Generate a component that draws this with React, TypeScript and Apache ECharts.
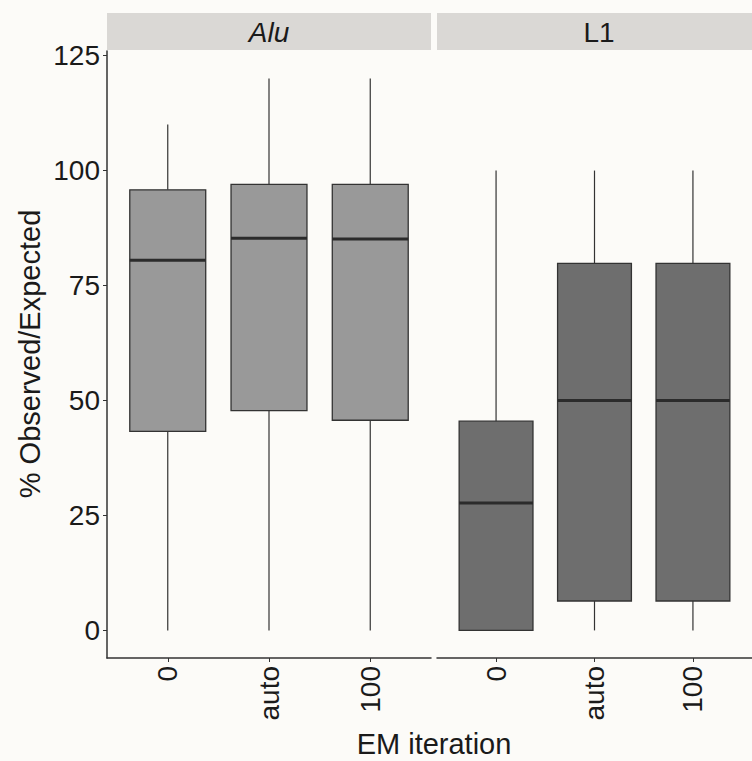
import React, { useEffect, useRef } from "react";
import * as echarts from "echarts";

const categories = ["0", "auto", "100"];
const facets = ["Alu", "L1"];
// [min, Q1, median, Q3, max]
const aluStats = [
  [0, 43.3, 80.5, 95.8, 110],
  [0, 47.8, 85.3, 97.0, 120],
  [0, 45.7, 85.1, 97.0, 120],
];
const l1Stats = [
  [0, 0, 27.7, 45.5, 100],
  [0, 6.4, 50, 79.8, 100],
  [0, 6.4, 50, 79.8, 100],
];
const yTicks = [0, 25, 50, 75, 100, 125];
const yTitle = "% Observed/Expected";
const xTitle = "EM iteration";

const FONT = "'Liberation Sans', Arial, sans-serif";
const BG = "#fcfbf8";
const INK = "#333333";

function renderBox(params: any, api: any) {
  const x = api.value(0);
  const mn = api.coord([x, api.value(1)]);
  const q1 = api.coord([x, api.value(2)]);
  const md = api.coord([x, api.value(3)]);
  const q3 = api.coord([x, api.value(4)]);
  const mx = api.coord([x, api.value(5)]);
  const w = api.size([0.75, 0])[0];
  const cx = q1[0];
  const fill = api.visual("color");
  return {
    type: "group",
    children: [
      { type: "line", shape: { x1: cx, y1: q3[1], x2: cx, y2: mx[1] }, style: { stroke: INK, lineWidth: 1.2 } },
      { type: "line", shape: { x1: cx, y1: q1[1], x2: cx, y2: mn[1] }, style: { stroke: INK, lineWidth: 1.2 } },
      { type: "rect", shape: { x: cx - w / 2, y: q3[1], width: w, height: q1[1] - q3[1] }, style: { fill, stroke: INK, lineWidth: 1.3 } },
      { type: "line", shape: { x1: cx - w / 2, y1: md[1], x2: cx + w / 2, y2: md[1] }, style: { stroke: "#2b2b2b", lineWidth: 3 } },
    ],
  };
}

export default function App() {
  const ref = useRef<HTMLDivElement>(null);
  useEffect(() => {
    document.body.style.margin = "0";
    const chart = echarts.init(ref.current!, null, { renderer: "svg" });
    const gridTop = 51;
    const gridH = 607;
    const panelW = 324;
    const lefts = [107, 437];
    const xAxisCommon = (gi: number) => ({
      type: "value",
      gridIndex: gi,
      min: 0.4,
      max: 3.6,
      axisLine: { show: true, onZero: false, lineStyle: { color: INK, width: 1.5 } },
      axisTick: { show: true, customValues: [1, 2, 3], length: 4, lineStyle: { color: INK, width: 1 } },
      axisLabel: {
        show: true,
        customValues: [1, 2, 3],
        rotate: 90,
        margin: 8,
        fontSize: 28,
        fontFamily: FONT,
        color: "#1a1a1a",
        formatter: (v: number) => categories[Math.round(v) - 1] ?? "",
      },
      splitLine: { show: false },
    });
    const yAxisCommon = (gi: number, show: boolean) => ({
      type: "value",
      gridIndex: gi,
      min: -6,
      max: 126,
      axisLine: { show, onZero: false, lineStyle: { color: INK, width: 1.5 } },
      axisTick: { show, customValues: yTicks, length: 4, lineStyle: { color: INK, width: 1 } },
      axisLabel: {
        show,
        customValues: yTicks,
        margin: 7,
        fontSize: 28,
        fontFamily: FONT,
        color: "#1a1a1a",
      },
      splitLine: { show: false },
    });
    const toData = (stats: number[][]) => stats.map((s, i) => [i + 1, ...s]);
    chart.setOption({
      animation: false,
      backgroundColor: BG,
      grid: lefts.map((l) => ({ left: l, top: gridTop, width: panelW, height: gridH })),
      xAxis: [xAxisCommon(0), xAxisCommon(1)],
      yAxis: [yAxisCommon(0, true), yAxisCommon(1, false)],
      series: [
        {
          type: "custom",
          xAxisIndex: 0,
          yAxisIndex: 0,
          renderItem: renderBox,
          itemStyle: { color: "#999999" },
          encode: { x: 0, y: [1, 2, 3, 4, 5] },
          data: toData(aluStats),
        },
        {
          type: "custom",
          xAxisIndex: 1,
          yAxisIndex: 1,
          renderItem: renderBox,
          itemStyle: { color: "#6e6e6e" },
          encode: { x: 0, y: [1, 2, 3, 4, 5] },
          data: toData(l1Stats),
        },
      ],
      graphic: [
        ...lefts.map((l, i) => ({
          type: "group",
          children: [
            { type: "rect", shape: { x: l, y: 13, width: panelW, height: 37 }, style: { fill: "#dad8d5" } },
            {
              type: "text",
              x: l + panelW / 2,
              y: 32,
              style: {
                text: facets[i],
                fontSize: 28,
                fontFamily: FONT,
                fontStyle: i === 0 ? "italic" : "normal",
                fill: "#1a1a1a",
                align: "center",
                verticalAlign: "middle",
              },
            },
          ],
        })),
        {
          type: "text",
          x: 30,
          y: 354,
          rotation: Math.PI / 2,
          style: { text: yTitle, fontSize: 29, fontFamily: FONT, fill: "#1a1a1a", align: "center", verticalAlign: "middle" },
        },
        {
          type: "text",
          x: 434,
          y: 744,
          style: { text: xTitle, fontSize: 29, fontFamily: FONT, fill: "#1a1a1a", align: "center", verticalAlign: "middle" },
        },
      ],
    });
    return () => chart.dispose();
  }, []);
  return <div ref={ref} style={{ width: 752, height: 761 }} />;
}
